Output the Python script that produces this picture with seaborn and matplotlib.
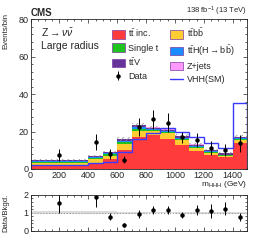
import numpy as np
import pandas as pd
import matplotlib
matplotlib.use("Agg")
import matplotlib.pyplot as plt
import seaborn as sns
from matplotlib.patches import Patch
from matplotlib.lines import Line2D
from matplotlib.ticker import AutoMinorLocator, MultipleLocator

# bins in m_HHH (GeV)
edges = [0, 400, 500, 600, 700, 800, 900, 1000, 1100, 1200, 1300, 1400, 1500]

# background yields per bin
tt_inc = [2.2, 3.4, 5.2, 10.1, 16.9, 18.3, 15.8, 12.8, 9.6, 7.5, 6.2, 14.1]
ttbb = [1.0, 1.8, 1.7, 3.2, 3.5, 2.2, 3.2, 2.7, 1.4, 1.2, 0.8, 1.4]
single_t = [0.5, 0.5, 0.9, 1.1, 0.9, 0.4, 0.9, 0.6, 0.9, 0.3, 0.3, 0.4]
tth = [0.4, 0.5, 0.6, 0.7, 0.9, 0.6, 0.6, 0.6, 0.5, 0.4, 0.4, 0.5]
ttv = [0.5, 0.6, 0.6, 0.8, 1.1, 0.6, 0.6, 0.8, 0.6, 0.5, 0.6, 0.7]
zjets = [0.1, 0.2, 0.1, 0.2, 0.3, 0.1, 0.2, 0.2, 0.1, 0.1, 0.2, 0.2]
bkg_unc = [0.4, 0.6, 0.7, 0.9, 1.2, 0.8, 0.8, 0.8, 0.6, 0.5, 0.5, 0.9]

vhh = [2.3, 3.0, 3.9, 9.3, 15.8, 19.0, 22.0, 19.9, 17.3, 13.7, 11.0, 35.4]

data = [7.5, 14.4, 7.8, 5.0, 22.6, 26.5, 24.7, 16.9, 15.5, 11.0, 10.1, 13.7]
data_err = [3.1, 4.3, 2.7, 2.0, 4.9, 5.3, 5.1, 3.1, 3.8, 3.7, 3.4, 4.4]

ratio = [1.57, 1.88, 0.79, 0.32, 0.95, 1.16, 1.16, 0.88, 1.16, 1.10, 1.22, 0.75]
ratio_err = [0.6, 0.53, 0.22, 0.12, 0.22, 0.23, 0.23, 0.18, 0.3, 0.4, 0.37, 0.23]

labels = {
    "tt_inc": r"t$\bar{\rm t}$ inc.",
    "single_t": "Single t",
    "ttv": r"t$\bar{\rm t}$V",
    "ttbb": r"t$\bar{\rm t}$b$\bar{\rm b}$",
    "tth": r"t$\bar{\rm t}$H(H$\rightarrow$b$\bar{\rm b}$)",
    "zjets": "Z+jets",
}
colors = {
    "tt_inc": "#ff3b3b",
    "ttbb": "#ffcc33",
    "single_t": "#1fc31f",
    "tth": "#1a8cff",
    "ttv": "#663399",
    "zjets": "#ff99ff",
}
# bottom to top
stack_order = ["tt_inc", "ttbb", "single_t", "tth", "ttv", "zjets"]
yields = {"tt_inc": tt_inc, "ttbb": ttbb, "single_t": single_t,
          "tth": tth, "ttv": ttv, "zjets": zjets}

sns.set_style("ticks")
plt.rcParams["font.family"] = ["Liberation Sans", "DejaVu Sans"]
plt.rcParams["mathtext.fontset"] = "custom"
plt.rcParams["mathtext.rm"] = "Liberation Sans"
plt.rcParams["mathtext.it"] = "Liberation Sans:italic"
plt.rcParams["mathtext.bf"] = "Liberation Sans:bold"
plt.rcParams["hatch.linewidth"] = 0.5

edges_a = np.array(edges, dtype=float)
centers = 0.5 * (edges_a[:-1] + edges_a[1:])

# cumulative stack, drawn from the top layer down so each lower layer covers it
cum = np.cumsum([np.array(yields[p]) for p in stack_order], axis=0)
total = cum[-1]
unc = np.array(bkg_unc)

fig = plt.figure(figsize=(2.58, 2.40), dpi=100)
ax = fig.add_axes([0.1186, 0.296, 0.839, 0.623])
ax2 = fig.add_axes([0.1186, 0.039, 0.839, 0.149])

for i in range(len(stack_order) - 1, -1, -1):
    layer = pd.DataFrame({"mhhh": centers, "w": cum[i]})
    sns.histplot(data=layer, x="mhhh", weights="w", bins=edges, element="step",
                 fill=True, alpha=1, color=colors[stack_order[i]], linewidth=0,
                 ax=ax)

ax.stairs(total + unc, edges, baseline=total - unc, fill=True, hatch="//////",
          facecolor="none", edgecolor="#8a8a8a", linewidth=0)
ax.stairs(vhh, edges, color="#3a3aff", linewidth=1.0)
eb = ax.errorbar(centers, data, yerr=data_err, fmt="o", color="black",
                 markersize=2.2, elinewidth=0.7, capsize=0)

ax.set_xlim(0, 1500)
ax.set_ylim(0, 80)
ax.set_xlabel("")
ax.set_ylabel("Events/bin", fontsize=5.5, loc="top", labelpad=5)
ax.yaxis.set_label_coords(-0.1, 1.04)
ax.yaxis.set_major_locator(MultipleLocator(20))
ax.yaxis.set_minor_locator(AutoMinorLocator(5))
ax.xaxis.set_major_locator(MultipleLocator(200))
ax.xaxis.set_minor_locator(AutoMinorLocator(4))

# ratio panel
rel = unc / total
ax2.stairs(1 + rel, edges, baseline=1 - rel, fill=True, color="#dcdcdc", linewidth=0)
ax2.axhline(1, color="#9a9a9a", linestyle=":", linewidth=0.8)
ax2.errorbar(centers, ratio, yerr=ratio_err, fmt="o", color="black",
             markersize=2.2, elinewidth=0.7, capsize=0)
ax2.set_xlim(0, 1500)
ax2.set_ylim(0, 2)
ax2.set_ylabel("Data/Bkgd.", fontsize=5.5)
ax2.yaxis.set_label_coords(-0.1, 0.5)
ax2.yaxis.set_major_locator(MultipleLocator(1))
ax2.yaxis.set_minor_locator(AutoMinorLocator(5))
ax2.xaxis.set_major_locator(MultipleLocator(200))
ax2.xaxis.set_minor_locator(AutoMinorLocator(4))
ax2.tick_params(axis="x", labelbottom=False)

for a in (ax, ax2):
    a.tick_params(which="both", direction="in", top=True, right=True,
                  labelsize=6.5, width=0.5, pad=1.5)
    a.tick_params(which="major", length=2.8)
    a.tick_params(which="minor", length=1.4)
    for s in a.spines.values():
        s.set_linewidth(0.6)

ax.text(1.0, -0.065, r"m$_{\rm HHH}$ (GeV)", transform=ax.transAxes,
        ha="right", va="top", fontsize=6)
ax.text(0.0, 1.01, "CMS", transform=ax.transAxes, ha="left", va="bottom",
        fontsize=7, fontweight="bold")
ax.text(1.0, 1.01, r"138 fb$^{-1}$ (13 TeV)", transform=ax.transAxes,
        ha="right", va="bottom", fontsize=5.5)
ax.text(0.05, 0.91, r"Z$\rightarrow\nu\bar{\nu}$", transform=ax.transAxes,
        ha="left", va="center", fontsize=7.5)
ax.text(0.05, 0.825, "Large radius", transform=ax.transAxes,
        ha="left", va="center", fontsize=7.5)

handles = [
    Patch(facecolor=colors["tt_inc"], edgecolor="#7a3aa0", linewidth=0.5),
    Patch(facecolor=colors["single_t"], edgecolor="#7a3aa0", linewidth=0.5),
    Patch(facecolor=colors["ttv"], edgecolor="#7a3aa0", linewidth=0.5),
    eb,
    Patch(facecolor=colors["ttbb"], edgecolor="#7a3aa0", linewidth=0.5),
    Patch(facecolor=colors["tth"], edgecolor="#7a3aa0", linewidth=0.5),
    Patch(facecolor=colors["zjets"], edgecolor="#7a3aa0", linewidth=0.5),
    Line2D([], [], color="#3a3aff", linewidth=1.0),
]
leg_labels = [labels["tt_inc"], labels["single_t"], labels["ttv"], "Data",
              labels["ttbb"], labels["tth"], labels["zjets"], "VHH(SM)"]
ax.legend(handles, leg_labels, ncol=2, loc="upper left",
          bbox_to_anchor=(0.36, 0.975), frameon=False, fontsize=6.5,
          handlelength=1.4, handleheight=1.1, handletextpad=0.4,
          columnspacing=1.3, labelspacing=0.42, borderaxespad=0)

fig.savefig("out.png", dpi=100)
